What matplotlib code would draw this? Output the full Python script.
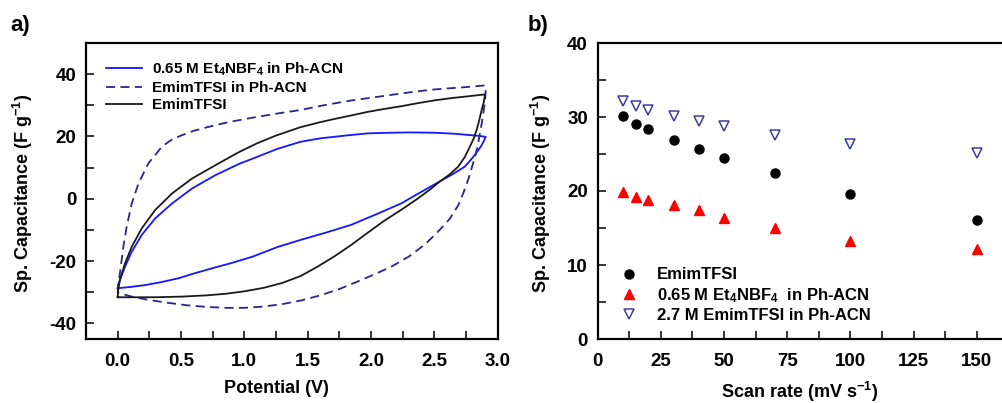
import matplotlib
matplotlib.use("Agg")
import matplotlib.pyplot as plt
from matplotlib.ticker import MultipleLocator

plt.rcParams['font.family'] = ['Liberation Sans', 'DejaVu Sans']
plt.rcParams['font.weight'] = 'bold'
plt.rcParams['axes.unicode_minus'] = False
plt.rcParams['mathtext.fontset'] = 'custom'
plt.rcParams['mathtext.rm'] = 'Liberation Sans:bold'
plt.rcParams['mathtext.it'] = 'Liberation Sans:bold'
plt.rcParams['mathtext.bf'] = 'Liberation Sans:bold'

# ---- panel a: CV curves (charge branch, then discharge branch back to 0 V) ----
et4_v = [0.0, 0.005, 0.018, 0.058, 0.111, 0.19, 0.296, 0.429, 0.587, 0.772, 0.958, 1.06, 1.26, 1.444, 1.6,
         1.8, 1.974, 2.15, 2.3, 2.503, 2.65, 2.767, 2.85, 2.905,
         2.89, 2.87, 2.847, 2.8, 2.74, 2.64, 2.54, 2.4, 2.238, 2.04, 1.841, 1.64, 1.444, 1.26, 1.063,
         0.9, 0.746, 0.6, 0.481, 0.35, 0.217, 0.1, 0.0]
et4_c = [-28.7, -27.5, -26.0, -21.8, -17.0, -11.6, -6.3, -1.5, 3.3, 7.6, 11.2, 12.8, 16.0, 18.3, 19.4,
         20.3, 21.0, 21.2, 21.3, 21.2, 20.9, 20.5, 20.2, 19.9,
         18.5, 17.0, 15.6, 13.1, 10.3, 7.8, 5.5, 2.3, -1.5, -5.0, -8.4, -10.9, -13.2, -15.5, -18.6,
         -20.6, -22.3, -24.0, -25.5, -26.7, -27.7, -28.3, -28.7]

emim_acn_v = [0.0, 0.005, 0.018, 0.045, 0.071, 0.111, 0.164, 0.243, 0.349, 0.42, 0.5, 0.6, 0.7, 0.8, 0.9,
              1.06, 1.25, 1.444, 1.6, 1.709, 1.85, 1.974, 2.1, 2.238, 2.37, 2.503, 2.63, 2.767, 2.9,
              2.905, 2.9, 2.89, 2.875, 2.86, 2.84, 2.81, 2.77, 2.73, 2.69, 2.62, 2.53, 2.43, 2.3, 2.16,
              2.03, 1.88, 1.76, 1.6, 1.45, 1.3, 1.15, 1.0, 0.85, 0.7, 0.55, 0.4, 0.25, 0.111, 0.0]
emim_acn_c = [-30.1, -27.5, -23.9, -15.4, -9.0, -1.5, 4.9, 11.4, 16.7, 18.8, 20.3, 21.8, 22.9, 23.9, 24.8,
              26.0, 27.3, 28.5, 29.8, 30.6, 31.6, 32.3, 33.0, 33.8, 34.5, 35.1, 35.5, 35.9, 36.4,
              34.5, 31.5, 28.5, 24.5, 21.0, 16.5, 12.0, 6.5, 2.0, -2.0, -6.5, -10.5, -14.5, -18.5, -21.8,
              -24.2, -26.8, -28.8, -31.0, -32.6, -33.8, -34.6, -35.0, -35.0, -34.7, -34.2, -33.4, -32.5, -31.4, -30.1]

emim_v = [0.0, 0.005, 0.018, 0.058, 0.111, 0.19, 0.296, 0.429, 0.587, 0.772, 0.958, 1.1, 1.25, 1.444, 1.6,
          1.709, 1.85, 1.974, 2.1, 2.238, 2.37, 2.503, 2.63, 2.767, 2.9,
          2.89, 2.873, 2.855, 2.833, 2.81, 2.78, 2.74, 2.688, 2.62, 2.542, 2.46, 2.37, 2.24, 2.106, 1.97,
          1.841, 1.71, 1.577, 1.444, 1.3, 1.15, 1.0, 0.85, 0.7, 0.5, 0.3, 0.1, 0.0]
emim_c = [-31.6, -29.0, -26.1, -20.7, -15.4, -9.5, -3.6, 1.7, 6.5, 10.8, 15.0, 17.8, 20.3, 23.0, 24.6,
          25.6, 26.8, 27.9, 28.8, 29.7, 30.7, 31.6, 32.3, 32.9, 33.5,
          31.0, 28.5, 25.3, 22.0, 19.3, 16.7, 13.4, 10.3, 7.8, 5.5, 2.8, 0.1, -3.5, -7.0, -11.0,
          -14.9, -18.5, -21.8, -24.8, -27.0, -28.6, -29.7, -30.5, -31.0, -31.4, -31.6, -31.6, -31.6]

# ---- panel b: capacitance vs scan rate ----
scan_rate = [10, 15, 20, 30, 40, 50, 70, 100, 150]
cap_emim = [30.1, 29.1, 28.4, 26.9, 25.7, 24.5, 22.4, 19.6, 16.1]
cap_et4 = [19.8, 19.2, 18.8, 18.1, 17.4, 16.4, 15.0, 13.3, 12.1]
cap_emim_acn = [32.1, 31.5, 31.0, 30.2, 29.5, 28.8, 27.6, 26.4, 25.1]

W, H = 1002, 403
fig = plt.figure(figsize=(W / 100, H / 100), dpi=100)

ax1 = fig.add_axes([86 / W, 1 - 339 / H, (497.7 - 86) / W, 296 / H])
ax2 = fig.add_axes([597.7 / W, 1 - 339 / H, (1002 - 597.7) / W, 296 / H])

ax1.plot(et4_v, et4_c, color='#1515ff', lw=1.3, label='0.65 M Et$_4$NBF$_4$ in Ph-ACN')
ax1.plot(emim_acn_v, emim_acn_c, color='#26268f', lw=1.3, ls=(0, (5, 3)), label='EmimTFSI in Ph-ACN')
ax1.plot(emim_v, emim_c, color='#1a1a1a', lw=1.3, label='EmimTFSI')
ax1.set_xlim(-0.25, 3.0)
ax1.set_ylim(-45, 50)
ax1.xaxis.set_minor_locator(MultipleLocator(0.25))
ax1.yaxis.set_major_locator(MultipleLocator(20))
ax1.yaxis.set_minor_locator(MultipleLocator(10))
ax1.set_xticks([0, 0.5, 1.0, 1.5, 2.0, 2.5, 3.0])
ax1.set_xticklabels(['0.0', '0.5', '1.0', '1.5', '2.0', '2.5', '3.0'])
ax1.set_xlabel('Potential (V)', fontsize=13, fontweight='bold')
ax1.set_ylabel('Sp. Capacitance (F g$^{-1}$)', fontsize=13, fontweight='bold')
ax1.xaxis.set_label_coords((276 - 86) / 411.7, -0.138)
ax1.yaxis.set_label_coords(-0.125, 0.49)
ax1.legend(loc='upper left', bbox_to_anchor=(0.033, 0.962), frameon=False, fontsize=11,
           handlelength=2.4, handletextpad=0.6, labelspacing=0.22, borderaxespad=0)

ax2.plot(scan_rate, cap_emim, 'o', color='black', ms=6.5, label='EmimTFSI')
ax2.plot(scan_rate, cap_et4, '^', color='#ff0000', ms=7, label='0.65 M Et$_4$NBF$_4$  in Ph-ACN')
ax2.plot(scan_rate, cap_emim_acn, 'v', mfc='none', mec='#3c3ca0', mew=1.1, ms=6.5,
         label='2.7 M EmimTFSI in Ph-ACN')
ax2.set_xlim(0, 160)
ax2.set_ylim(0, 40)
ax2.xaxis.set_major_locator(MultipleLocator(25))
ax2.xaxis.set_minor_locator(MultipleLocator(12.5))
ax2.yaxis.set_major_locator(MultipleLocator(10))
ax2.yaxis.set_minor_locator(MultipleLocator(5))
ax2.spines['right'].set_visible(False)
ax2.set_xlabel('Scan rate (mV s$^{-1}$)', fontsize=13, fontweight='bold')
ax2.set_ylabel('Sp. Capacitance (F g$^{-1}$)', fontsize=13, fontweight='bold')
ax2.xaxis.set_label_coords(0.5, -0.138)
ax2.yaxis.set_label_coords(-0.11, 0.49)
ax2.legend(loc='lower left', bbox_to_anchor=(0.04, 0.031), frameon=False, fontsize=12,
           handlelength=1.0, handletextpad=1.2, labelspacing=0.21, borderaxespad=0)

for ax in (ax1, ax2):
    for s in ax.spines.values():
        s.set_linewidth(1.6)
    ax.tick_params(which='both', direction='in', length=5.5, width=1.1, labelsize=13.5)
    ax.tick_params(which='both', top=False, right=False)
    ax.tick_params(axis='x', pad=10)
    ax.tick_params(axis='y', pad=7)
    for lab in ax.get_xticklabels() + ax.get_yticklabels():
        lab.set_fontweight('bold')

fig.text(10 / W, 1 - 25 / H, 'a)', fontsize=16, fontweight='bold', va='center')
fig.text(528 / W, 1 - 25 / H, 'b)', fontsize=16, fontweight='bold', va='center')

fig.savefig('out.png', dpi=100)
